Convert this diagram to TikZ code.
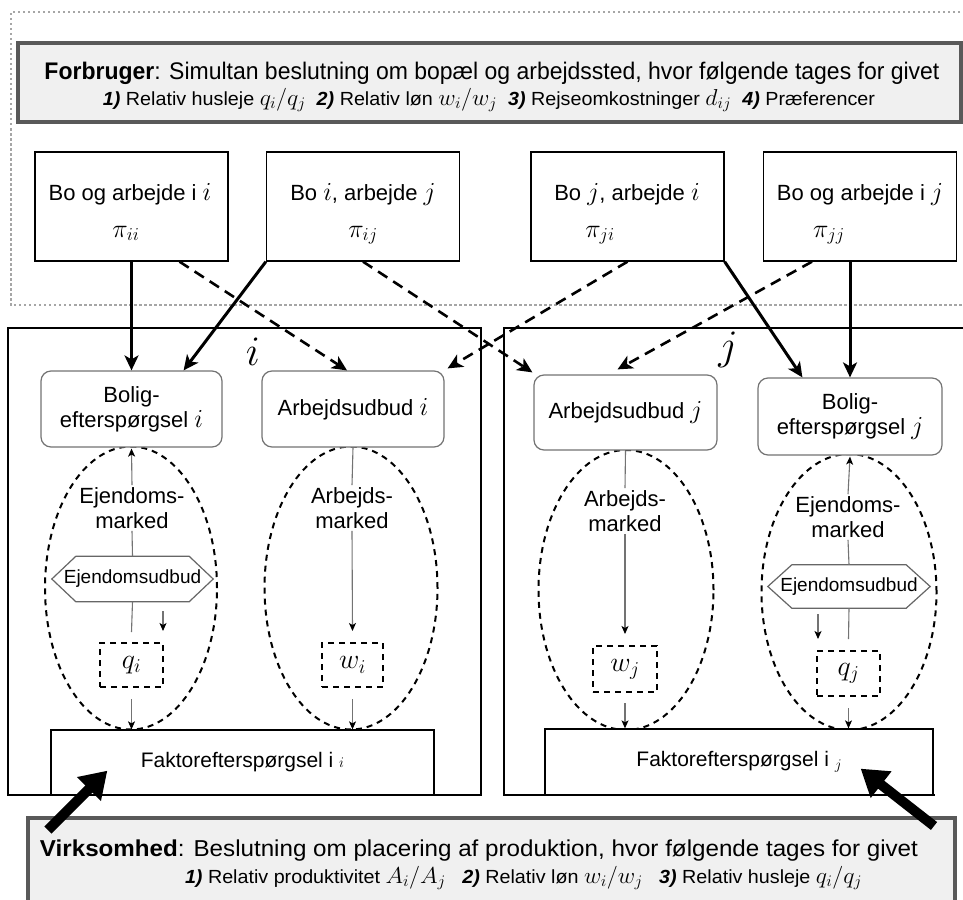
\RequirePackage{fix-cm}
\documentclass[tikz,border=0pt]{standalone}
\usepackage{fontspec}
\setmainfont{Liberation Sans}
\usepackage{graphicx}
\usetikzlibrary{arrows.meta,shapes.geometric,calc}
\newcommand\fsBox{\fontsize{22}{25}\selectfont}
\newcommand\fsHex{\fontsize{19}{22}\selectfont}
\newcommand\fsSub{\fontsize{19}{22}\selectfont}
\newcommand\fsHead{\fontsize{24}{26}\selectfont}
\newcommand\fsReg{\fontsize{42}{46}\selectfont}
\newcommand\nbi[1]{\textbf{\textit{#1}}}
\newcommand\mth[1]{{\fontsize{26}{28}\selectfont$#1$}}
\newcommand\mhd[1]{{\fontsize{23}{25}\selectfont$#1$}}
\begin{document}
\begin{tikzpicture}[x=1pt,y=-1pt,
  every node/.style={inner sep=0pt, font=\fsBox},
  headbox/.style={draw=black!65, line width=4pt, fill=black!6},
  upbox/.style={draw, line width=1.3pt, minimum width=193pt, minimum height=109pt},
  rbox/.style={draw=black!55, line width=1.2pt, rounded corners=10pt, fill=white, align=center},
  regionline/.style={line width=1.3pt},
  mkt/.style={draw, ellipse, line width=2pt, dash pattern=on 6pt off 5pt},
  qbox/.style={draw, line width=2pt, dash pattern=on 6pt off 5pt, minimum width=63pt, minimum height=44pt, font=\fontsize{28}{30}\selectfont},
  mtxt/.style={align=center, inner sep=2pt},
  hexbox/.style={minimum width=161pt, minimum height=45pt, font=\fsHex},
  hexline/.style={draw=black!60, line width=1.2pt, fill=white},
  solidarr/.style={line width=3pt, -{Stealth[length=15pt,width=14pt,inset=4pt]}},
  dasharr/.style={line width=2.6pt, dash pattern=on 11pt off 7pt, -{Stealth[length=15pt,width=14pt,inset=4pt]}},
  thinline/.style={draw=black!55, line width=1.1pt},
  thinarr/.style={thinline, -{Stealth[length=8pt,width=7pt,inset=2pt,black]}},
  bigarr/.style={line width=10pt, -{Triangle[length=26pt,width=32pt]}},
  outerdot/.style={draw=black!35, line width=2.5pt, dash pattern=on 2.5pt off 2.5pt}
]
\useasboundingbox (0,0) rectangle (963,899);

% outer dotted region (consumer)
\draw[outerdot] (975,12) -- (11,12) -- (11,305) -- (975,305);

% regions i and j
\draw[regionline] (8,328) rectangle (481,795);
\draw[regionline] (975,328) -- (504,328) -- (504,795) -- (935,795);
\node[font=\fsReg] (labi) at (253,352) {$i$};
\node[font=\fsReg] (labj) at (728,350) {$j$};

% consumer box
\node[headbox, minimum width=943pt, minimum height=79pt] (forb) at (489.5,82.5) {};
\node[anchor=base, font=\fsHead] (forb1) at (492,79) {\resizebox{895pt}{\height}{\textbf{Forbruger}: Simultan beslutning om bopæl og arbejdssted, hvor følgende tages for givet}};
\node[anchor=base, font=\fsSub] (forb2) at (489,105) {\resizebox{772pt}{\height}{\nbi{1)} Relativ husleje \mhd{q_i/q_j}\ \ \nbi{2)} Relativ løn \mhd{w_i/w_j}\ \ \nbi{3)} Rejseomkostninger \mhd{d_{ij}}\ \ \nbi{4)} Præferencer}};

% choice boxes
\node[upbox] (bii) at (131.5,206.5) {};
\node[upbox] (bij) at (363,206.5) {};
\node[upbox] (bji) at (627.5,206.5) {};
\node[upbox] (bjj) at (860,206.5) {};
\node[anchor=base] (tii) at (130,200) {Bo og arbejde i \mth{i}};
\node[anchor=base] (pii) at (126,237) {\mth{\pi_{ii}}};
\node[anchor=base] (tij) at (363,200) {Bo \mth{i}, arbejde \mth{j}};
\node[anchor=base] (pij) at (363,237) {\mth{\pi_{ij}}};
\node[anchor=base] (tji) at (627,200) {Bo \mth{j}, arbejde \mth{i}};
\node[anchor=base] (pji) at (600,237) {\mth{\pi_{ji}}};
\node[anchor=base] (tjj) at (860,200) {Bo og arbejde i \mth{j}};
\node[anchor=base] (pjj) at (829,237) {\mth{\pi_{jj}}};

% markets (ellipses)
\node[mkt, minimum width=172pt, minimum height=283pt] (ei) at (131,588) {};
\node[mkt, minimum width=173pt, minimum height=283pt] (ai) at (351,588) {};
\node[mkt, minimum width=175pt, minimum height=280pt] (aj) at (626,590) {};
\node[mkt, minimum width=175pt, minimum height=276pt] (ej) at (849,592) {};

% demand / supply boxes
\node[rbox, minimum width=181pt, minimum height=76pt] (boli) at (131.5,409) {Bolig-\\efterspørgsel \mth{i}};
\node[rbox, minimum width=182pt, minimum height=76pt] (arbi) at (353,409) {Arbejdsudbud \mth{i}};
\node[rbox, minimum width=183pt, minimum height=75pt] (arbj) at (625.5,412.5) {Arbejdsudbud \mth{j}};
\node[rbox, minimum width=184pt, minimum height=77pt] (bolj) at (850,416.5) {Bolig-\\efterspørgsel \mth{j}};

% factor demand boxes
\node[draw, line width=1.3pt, fill=white, minimum width=383pt, minimum height=65pt, font=\fontsize{21}{24}\selectfont] (faki) at (242.5,762.5) {Faktorefterspørgsel i $\scriptstyle i$};
\node[draw, line width=1.3pt, fill=white, minimum width=388pt, minimum height=66pt, font=\fontsize{21}{24}\selectfont] (fakj) at (739,762) {Faktorefterspørgsel i \raisebox{-3pt}{$\scriptstyle j$}};

% market texts
\node[mtxt] (emi) at (132,508) {Ejendoms-\\marked};
\node[mtxt] (ami) at (352,508) {Arbejds-\\marked};
\node[mtxt] (amj) at (625,511) {Arbejds-\\marked};
\node[mtxt] (emj) at (848,517) {Ejendoms-\\marked};

% hexagons
\node[hexbox] (hexi) at (132.5,579) {};
\draw[hexline] (hexi.west) -- ([xshift=24pt]hexi.north west) -- ([xshift=-24pt]hexi.north east) -- (hexi.east) -- ([xshift=-24pt]hexi.south east) -- ([xshift=24pt]hexi.south west) -- cycle;
\node[font=\fsHex] (hexti) at (hexi) {Ejendomsudbud};
\node[hexbox, minimum width=162pt, minimum height=43pt] (hexj) at (849,586.5) {};
\draw[hexline] (hexj.west) -- ([xshift=24pt]hexj.north west) -- ([xshift=-24pt]hexj.north east) -- (hexj.east) -- ([xshift=-24pt]hexj.south east) -- ([xshift=24pt]hexj.south west) -- cycle;
\node[font=\fsHex] (hextj) at (hexj) {Ejendomsudbud};

% prices
\node[qbox] (qi) at (131.5,665) {$q_i$};
\node[qbox, minimum width=61pt] (wi) at (352.5,665) {$w_i$};
\node[qbox, minimum width=64pt, minimum height=46pt] (wj) at (625,669) {$w_j$};
\node[qbox, minimum width=63pt, minimum height=45pt] (qj) at (848.5,673.5) {$q_j$};

% inner market connectors, i side
\draw[thinarr] (emi.north) -- ([yshift=-1pt]boli.south);
\draw[thinline] (emi.south) -- (hexi.north);
\draw[thinline] (hexi.south) -- ([yshift=10pt]qi.north);
\draw[thinarr] ([xshift=-1pt,yshift=31pt]qi.north east) -- ([xshift=-1pt,yshift=11pt]qi.north east);
\draw[thinarr] ([yshift=-11pt]qi.south) -- (qi.south |- faki.north);
\draw[thinline] (arbi.south) -- (ami.north);
\draw[thinarr] (ami.south) -- ([yshift=11pt]wi.north);
\draw[thinarr] ([yshift=-11pt]wi.south) -- (wi.south |- faki.north);
% j side
\draw[thinline] (arbj.south) -- (amj.north);
\draw[thinarr] (amj.south) -- ([yshift=11pt]wj.north);
\draw[thinarr] ([yshift=-10pt]wj.south) -- (wj.south |- fakj.north);
\draw[thinarr] (emj.north) -- ([yshift=-1pt]bolj.south);
\draw[thinline] (emj.south) -- (hexj.north);
\draw[thinline] (hexj.south) -- ([yshift=11pt]qj.north);
\draw[thinarr] ([xshift=2pt,yshift=36pt]qj.north west) -- ([xshift=2pt,yshift=11pt]qj.north west);
\draw[thinarr] ([yshift=-11pt]qj.south) -- (qj.south |- fakj.north);

% consumer choice connectors
\draw[solidarr] (bii.south) -- (boli.north);
\draw[solidarr] (bij.south west) -- ([xshift=-39pt]boli.north east);
\draw[dasharr] ([xshift=48pt]bii.south) -- ([xshift=-6pt]arbi.north);
\draw[dasharr] (bij.south) -- ([xshift=-1pt,yshift=2pt]arbj.north west);
\draw[dasharr] (bji.south) -- ([xshift=3pt,yshift=2pt]arbi.north east);
\draw[solidarr] (bji.south east) -- ([xshift=45pt]bolj.north west);
\draw[dasharr] ([xshift=-48pt]bjj.south) -- ([xshift=-8pt,yshift=5pt]arbj.north);
\draw[solidarr] (bjj.south -| bolj.north) -- (bolj.north);

% firm box
\node[headbox, minimum width=927pt, minimum height=96pt] (virk) at (491.5,866) {};
\node[anchor=base, font=\fontsize{23}{25}\selectfont] (virk1) at (479,856) {\resizebox{878pt}{\height}{\textbf{Virksomhed}: Beslutning om placering af produktion, hvor følgende tages for givet}};
\node[anchor=base, font=\fsSub] (virk2) at (523.5,883) {\resizebox{677pt}{\height}{\nbi{1)} Relativ produktivitet \mhd{A_i/A_j}\ \ \ \nbi{2)} Relativ løn \mhd{w_i/w_j}\ \ \ \nbi{3)} Relativ husleje \mhd{q_i/q_j}}};

% firm arrows
\draw[bigarr] ([xshift=22pt,yshift=-14pt]virk.north west) -- ([xshift=57pt,yshift=25pt]faki.south west);
\draw[bigarr] ([xshift=-23pt,yshift=-10pt]virk.north east) -- ([xshift=-73pt,yshift=27pt]fakj.south east);
\end{tikzpicture}
\end{document}
